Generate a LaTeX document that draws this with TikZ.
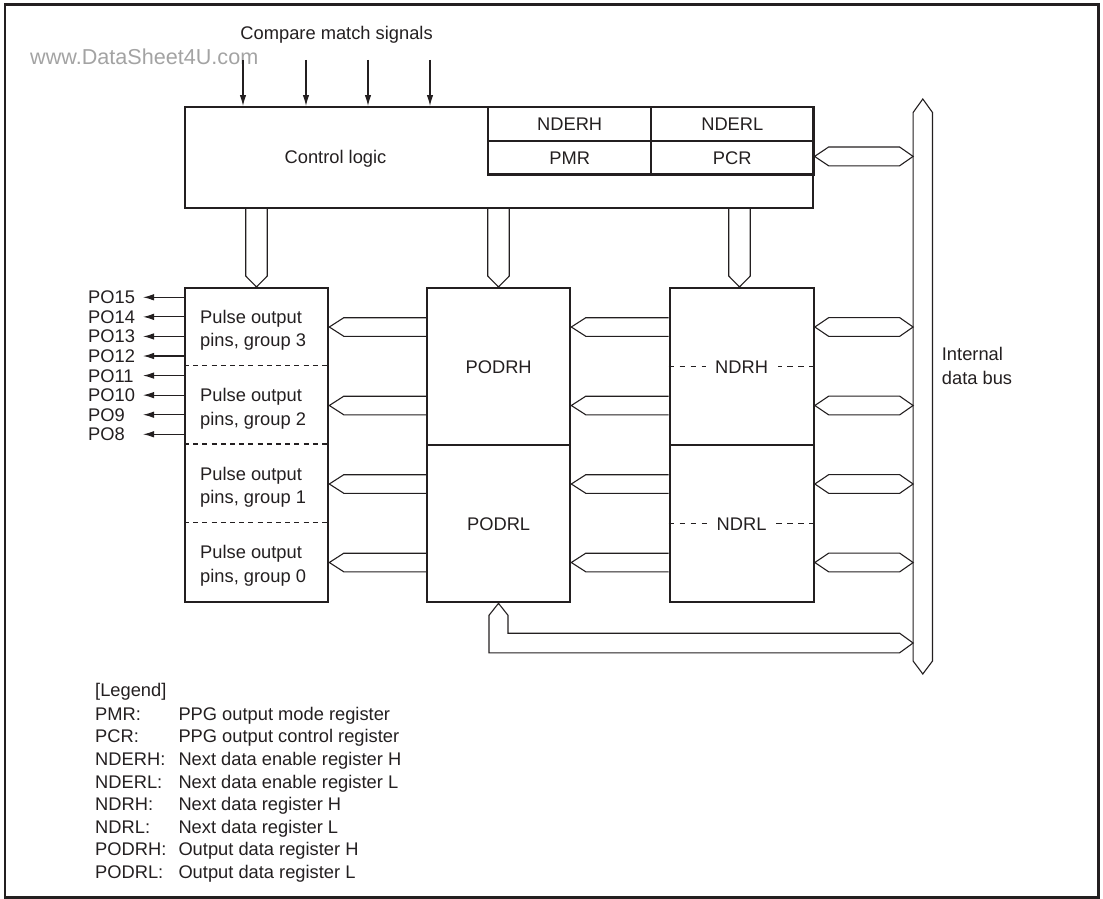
\documentclass[tikz,border=0pt]{standalone}
\usepackage{fontspec}
\setmainfont{Liberation Sans}
\usetikzlibrary{calc,arrows.meta}
\definecolor{ink}{HTML}{231F20}
\definecolor{wmgray}{HTML}{A3A3A3}
\newcommand\leftbus[3]{%
  \draw[bus] ($(#2|-#3)+(0,-9.3)$) -- ($(#1|-#3)+(14.5,-9.3)$) -- (#1|-#3)
    -- ($(#1|-#3)+(14.5,9.3)$) -- ($(#2|-#3)+(0,9.3)$);}
\newcommand\dblbus[3]{%
  \draw[bus] (#1|-#3) -- ($(#1|-#3)+(14,-9.4)$) -- ($(#2|-#3)+(-13.5,-9.4)$) -- (#2|-#3)
    -- ($(#2|-#3)+(-13.5,9.4)$) -- ($(#1|-#3)+(14,9.4)$) -- cycle;}
\newcommand\downbus[3]{%
  \draw[bus] ($(#1|-#2)+(-10.75,0)$) -- ($(#1|-#3)+(-10.75,-11)$) -- (#1|-#3)
    -- ($(#1|-#3)+(10.75,-11)$) -- ($(#1|-#2)+(10.75,0)$);}
\begin{document}
\begin{tikzpicture}[x=1pt,y=-1pt,
  every node/.style={font=\fontsize{18.3}{23.6}\selectfont, text=ink, inner sep=0pt},
  box/.style={draw=ink, line width=2.3pt, anchor=north west, inner sep=0pt},
  lbl/.style={text height=13.1pt, text depth=0pt},
  bus/.style={draw=ink, line width=1.1pt, line join=miter},
  dline/.style={draw=ink, line width=1.1pt, dash pattern=on 5pt off 4.2pt},
  sig/.style={draw=ink, line width=1.1pt, -{Latex[length=11pt,width=6.5pt]}},
]
\useasboundingbox (0,0) rectangle (1103,899);
\draw[ink, line width=2.4pt] (5,4.5) rectangle (1098.3,897.3);

% watermark and title
\node[lbl, text=wmgray, font=\fontsize{21.6}{25}\selectfont, text height=15.4pt, anchor=west] (wm) at (30,57) {www.DataSheet4U.com};
\node[lbl] (cms) at (336.6,33) {Compare match signals};

% control block
\node[box, minimum width=628pt, minimum height=100.5pt] (ctl) at (184,106) {};
\node[lbl] (ctltxt) at (335.5,156.5) {Control logic};
\node[box, lbl, minimum width=163pt, minimum height=33.5pt] (nderh) at (487,106) {NDERH};
\node[box, lbl, minimum width=162.3pt, minimum height=33.5pt] (nderl) at (650,106) {NDERL};
\node[box, lbl, minimum width=163pt, minimum height=33.8pt] (pmr) at (487,139.5) {PMR};
\node[box, lbl, minimum width=162.3pt, minimum height=33.8pt] (pcr) at (650,139.5) {PCR};

% compare match arrows
\foreach \xx [count=\i] in {243,306,368,430} {
  \coordinate (m\i) at (\xx,60);
  \draw[sig] (m\i) -- (m\i|-ctl.north);
}

% lower blocks
\node[box, minimum width=143pt, minimum height=314pt] (pulse) at (184,287) {};
\node[box, lbl, minimum width=143pt, minimum height=157pt] (podrh) at (426,287) {PODRH};
\node[box, lbl, minimum width=143pt, minimum height=157pt] (podrl) at (426,444) {PODRL};
\node[box, minimum width=144pt, minimum height=157pt] (ndrh) at (668.5,287) {};
\node[box, minimum width=144pt, minimum height=157pt] (ndrl) at (668.5,444) {};

% dashed group separators
\foreach \yy in {365.7,444,522.3}
  \draw[dline] (pulse.west|-0,\yy) -- (pulse.east|-0,\yy);
\node[lbl, inner xsep=9.5pt] (ndrhl) at (ndrh.center) {NDRH};
\node[lbl, inner xsep=9.5pt] (ndrll) at (ndrl.center) {NDRL};
\draw[dline, dash pattern=on 5.5pt off 5.5pt] (ndrh.west) -- (ndrhl.west);
\draw[dline, dash pattern=on 5.5pt off 5.5pt] (ndrh.east) -- (ndrhl.east);
\draw[dline, dash pattern=on 5.5pt off 5.5pt] (ndrl.west) -- (ndrll.west);
\draw[dline, dash pattern=on 5.5pt off 5.5pt] (ndrl.east) -- (ndrll.east);

% pulse group texts (base anchor = last line baseline)
\node[anchor=base west, align=left] (g3) at (200,346.6) {Pulse output\\pins, group 3};
\node[anchor=base west, align=left] (g2) at (200,425.1) {Pulse output\\pins, group 2};
\node[anchor=base west, align=left] (g1) at (200,503.6) {Pulse output\\pins, group 1};
\node[anchor=base west, align=left] (g0) at (200,582.1) {Pulse output\\pins, group 0};

% output pins
\foreach \n [count=\i from 0] in {15,14,...,8} {
  \node[lbl, anchor=west] (po\n) at (88,{297.3+19.57*\i}) {PO\n};
  \coordinate (pt\n) at (143,{297.3+19.57*\i});
  \draw[sig] (pulse.west|-pt\n) -- (pt\n);
}

% internal data bus
\node[minimum width=19pt, minimum height=574.6pt, anchor=north] (bus) at (922.8,99) {};
\draw[bus] (bus.north) -- ($(bus.north east)+(0,13.5)$) -- ($(bus.south east)+(0,-13)$)
  -- (bus.south) -- ($(bus.south west)+(0,-13)$) -- ($(bus.north west)+(0,13.5)$) -- cycle;
\node[anchor=base west, align=left] (ibus) at (941.7,384.4) {Internal\\data bus};

% rows
\coordinate (rp) at (0,156.4);
\coordinate (r3) at (0,327);
\coordinate (r2) at (0,405.5);
\coordinate (r1) at (0,484);
\coordinate (r0) at (0,562.5);
\coordinate (rb) at (0,643);
\coordinate (x1) at (256.5,0);
\coordinate (x2) at (498.5,0);
\coordinate (x3) at (739.5,0);

% vertical buses from control
\downbus{x1}{ctl.south}{pulse.north}
\downbus{x2}{ctl.south}{podrh.north}
\downbus{x3}{ctl.south}{ndrh.north}

% horizontal buses
\foreach \r in {r3,r2,r1,r0} {
  \leftbus{pulse.east}{podrh.west}{\r}
  \leftbus{podrh.east}{ndrh.west}{\r}
  \dblbus{ndrh.east}{bus.west}{\r}
}
\dblbus{pcr.east}{bus.west}{rp}

% return bus from internal bus to PODRL
\draw[bus] (x2|-podrl.south) -- ($(x2|-podrl.south)+(9.5,12)$) -- ($(x2|-rb)+(9.5,-9.8)$)
  -- ($(bus.west|-rb)+(-13.5,-9.8)$) -- (bus.west|-rb) -- ($(bus.west|-rb)+(-13.5,9.8)$)
  -- ($(x2|-rb)+(-9.5,9.8)$) -- ($(x2|-podrl.south)+(-9.5,12)$) -- cycle;

% legend
\node[lbl, anchor=west] (leg) at (95,690) {[Legend]};
\foreach \a/\b [count=\i from 0] in {PMR:/PPG output mode register,
  PCR:/PPG output control register,
  NDERH:/Next data enable register H,
  NDERL:/Next data enable register L,
  NDRH:/Next data register H,
  NDRL:/Next data register L,
  PODRH:/Output data register H,
  PODRL:/Output data register L} {
  \node[lbl, anchor=west] (la\i) at (95,{713.7+22.6*\i}) {\a};
  \node[lbl, anchor=west] (lb\i) at (178.3,{713.7+22.6*\i}) {\b};
}
\end{tikzpicture}
\end{document}
